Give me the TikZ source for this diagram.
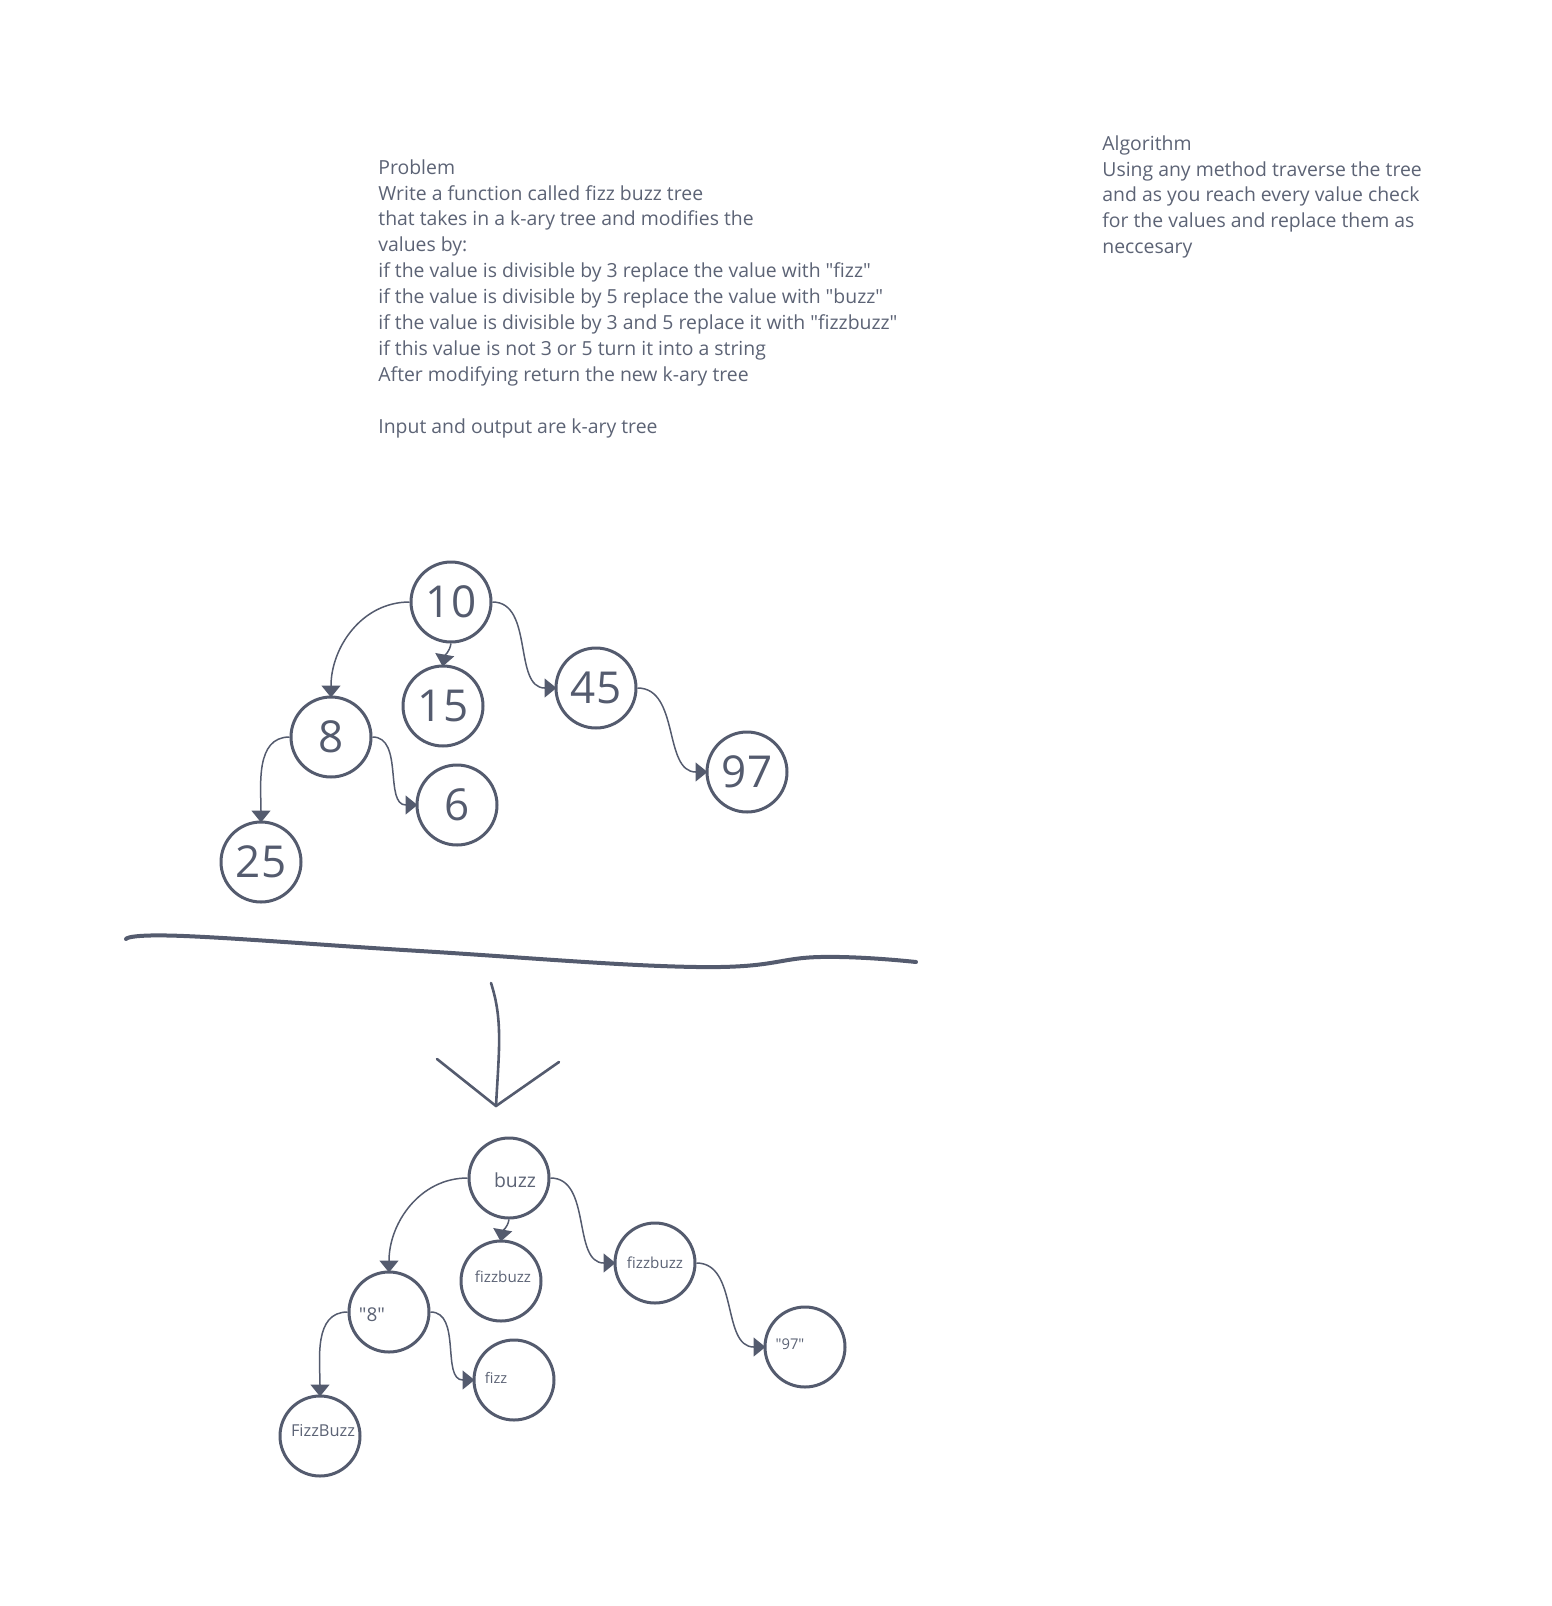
\documentclass[tikz,border=0pt]{standalone}
\usepackage{fontspec}
\setmainfont{Open Sans}
\usetikzlibrary{arrows.meta}

\definecolor{ink}{RGB}{84,91,110}
\definecolor{notegray}{RGB}{92,99,117}
\newcommand{\dq}{\textquotedbl}

\begin{document}
\begin{tikzpicture}[x=0.5pt,y=-0.5pt]
\tikzset{vertex/.style = {shape=circle,draw=ink,line width=1.5pt,minimum size=40pt,inner sep=0pt,text=ink}}
\tikzset{edge/.style = {-{Triangle[width=9.5pt,length=6pt]},draw=ink,line width=0.75pt,shorten >=-1pt}}
\tikzset{digits/.style = {font=\fontsize{22}{22}\selectfont}}
\tikzset{notes/.style = {align=left,anchor=north west,inner sep=0pt,text=notegray,font=\fontsize{9.7}{12.95}\selectfont}}
\tikzset{val/.style = {text=notegray,font=\fontsize{#1}{#1}\selectfont}}

\useasboundingbox (0,0) rectangle (1552,1606);

%texts
\node[notes] (problem) at (378,159) {Problem\\
Write a function called fizz buzz tree\\
that takes in a k-ary tree and modifies the\\
values by:\\
if the value is divisible by 3 replace the value with \dq fizz\dq\\
if the value is divisible by 5 replace the value with \dq buzz\dq\\
if the value is divisible by 3 and 5 replace it with \dq fizzbuzz\dq\\
if this value is not 3 or 5 turn it into a string\\
After modifying return the new k-ary tree\\
~\\
Input and output are k-ary tree};
\node[notes] (algorithm) at (1102,135) {Algorithm\\
Using any method traverse the tree\\
and as you reach every value check\\
for the values and replace them as\\
neccesary};

%input tree
\node[vertex,digits] (ten) at (451,602) {10};
\node[vertex,digits] (fifteen) at (443,706) {15};
\node[vertex,digits] (fortyfive) at (596,688) {45};
\node[vertex,digits] (eight) at (331,737) {8};
\node[vertex,digits] (six) at (457,805) {6};
\node[vertex,digits] (twentyfive) at (261,862) {25};
\node[vertex,digits] (ninetyseven) at (747,772) {97};

\draw[edge] (ten.west) to[out=180,in=90] (eight.north);
\draw[edge] (ten.south) to[out=-100,in=80] (fifteen.north);
\draw[edge] (ten.east) to[out=0,in=180] (fortyfive.west);
\draw[edge] (fortyfive.east) to[out=0,in=180] (ninetyseven.west);
\draw[edge] (eight.west) to[out=180,in=90] (twentyfive.north);
\draw[edge] (eight.east) to[out=0,in=180] (six.west);

%divider and arrow
\draw[ink,line width=2pt,line cap=round] plot[smooth,tension=0.7] coordinates {(126,939) (184,936) (420,951) (697,967) (820,957) (916,962)};
\coordinate (shafttop) at (491,983);
\coordinate (tip) at (496,1106);
\coordinate (headleft) at (437,1059);
\coordinate (headright) at (559,1062);
\draw[ink,line width=1.3pt,line cap=round] (shafttop) .. controls (503,1020) and (499,1050) .. (tip);
\draw[ink,line width=1.3pt,line cap=round,line join=round] (headleft) -- (tip) -- (headright);

%output tree
\node[vertex,label={[val=9.7,xshift=3pt,yshift=-1pt]center:buzz}] (buzz) at (509,1178) {};
\node[vertex,label={[val=7.6,xshift=1pt,yshift=2pt]center:fizzbuzz}] (fbmid) at (501,1281) {};
\node[vertex,label={[val=7.6]center:fizzbuzz}] (fbright) at (655,1263) {};
\node[vertex,label={[val=9.5,xshift=-8.5pt,yshift=-1.5pt]center:\dq 8\dq}] (qeight) at (389,1312) {};
\node[vertex,label={[val=7.3,xshift=-9pt,yshift=1pt]center:fizz}] (fizz) at (514,1380) {};
\node[vertex,label={[val=8.2,xshift=1.5pt,yshift=2.5pt]center:FizzBuzz}] (fzbz) at (320,1436) {};
\node[vertex,label={[val=7.4,xshift=-7.5pt,yshift=1.5pt]center:\dq 97\dq}] (qnine) at (805,1347) {};

\draw[edge] (buzz.west) to[out=180,in=90] (qeight.north);
\draw[edge] (buzz.south) to[out=-100,in=80] (fbmid.north);
\draw[edge] (buzz.east) to[out=0,in=180] (fbright.west);
\draw[edge] (fbright.east) to[out=0,in=180] (qnine.west);
\draw[edge] (qeight.west) to[out=180,in=90] (fzbz.north);
\draw[edge] (qeight.east) to[out=0,in=180] (fizz.west);

\end{tikzpicture}
\end{document}
